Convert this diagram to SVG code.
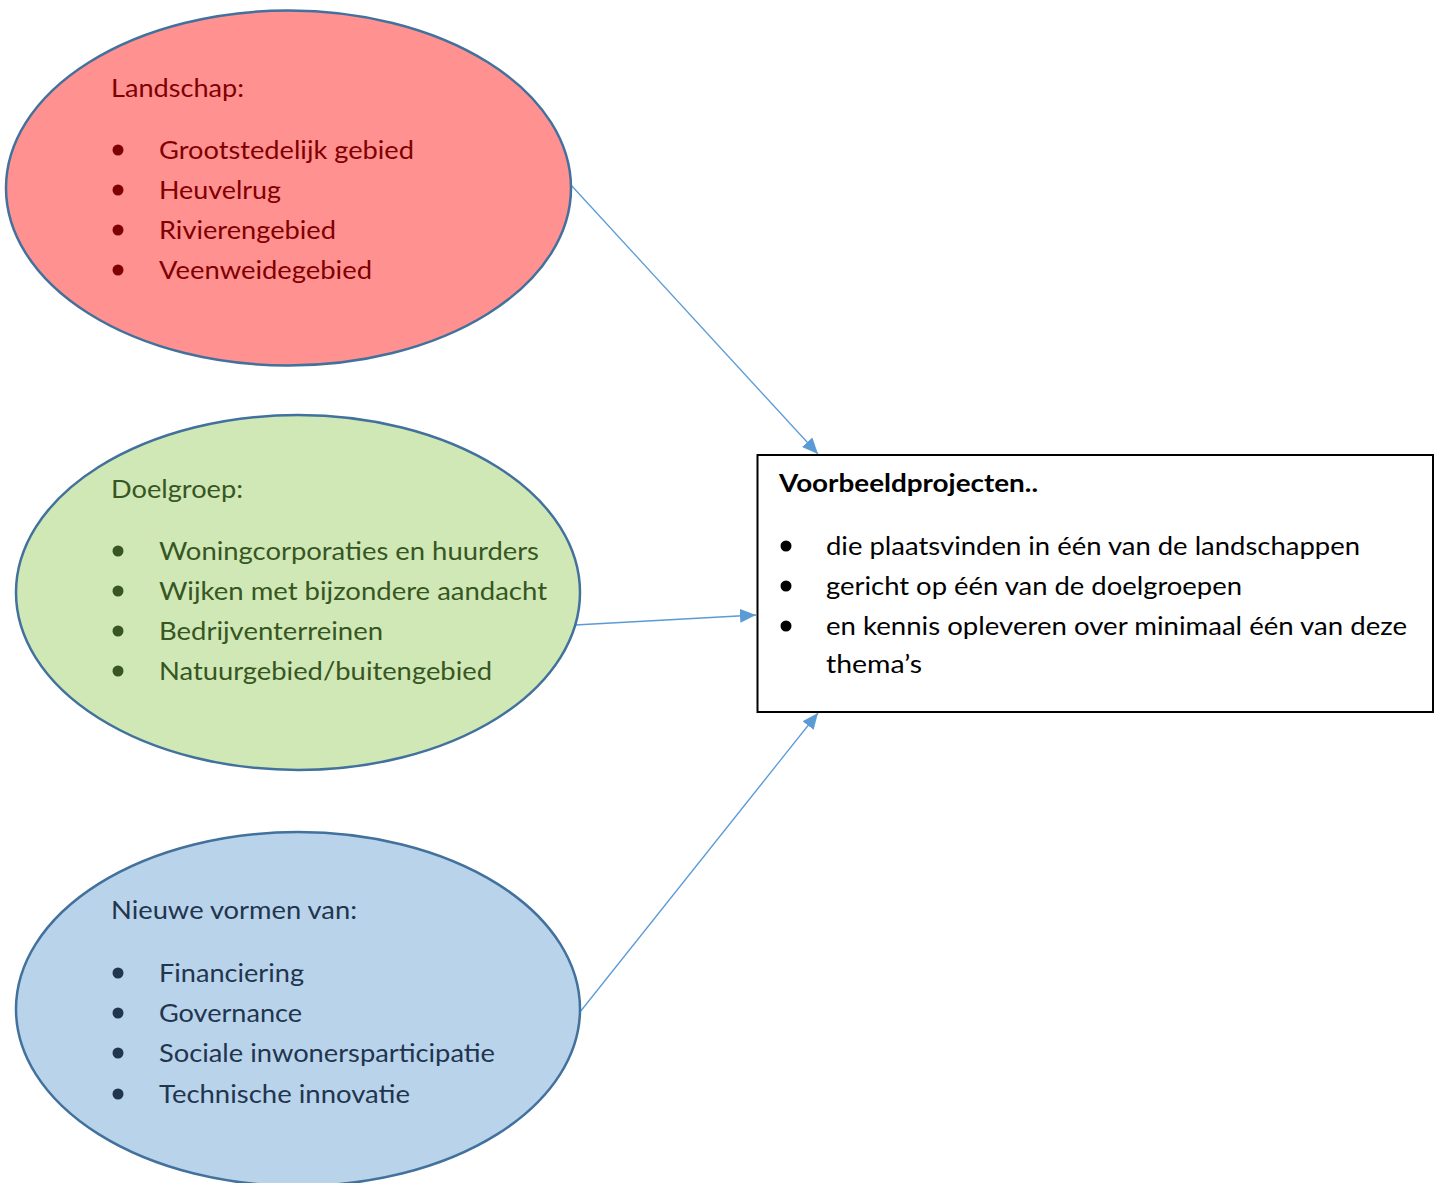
<svg xmlns="http://www.w3.org/2000/svg" width="1442" height="1183" viewBox="0 0 1442 1183">
<style>
text{font-family:Lato,"Open Sans","Liberation Sans",sans-serif;font-size:25px}
.ell{stroke:#41719C;stroke-width:2.5}
.conn{stroke:#5B9BD5;stroke-width:1.3;fill:none}
.red{fill:#7F0000}.green{fill:#375623}.blue{fill:#22354F}
</style>
<defs>
<marker id="ah" viewBox="0 0 16 14" refX="16" refY="7" markerWidth="16" markerHeight="14" markerUnits="userSpaceOnUse" orient="auto">
<path d="M0,0 L16,7 L0,14 z" fill="#5B9BD5"/>
</marker>
</defs>
<rect width="1442" height="1183" fill="#fff"/>
<g id="connectors">
<line class="conn" x1="571" y1="185" x2="818" y2="454" marker-end="url(#ah)"/>
<line class="conn" x1="575" y1="625" x2="756" y2="615" marker-end="url(#ah)"/>
<line class="conn" x1="580" y1="1012" x2="818" y2="713" marker-end="url(#ah)"/>
</g>
<g id="landschap">
<ellipse class="ell" cx="288.5" cy="188" rx="282.5" ry="177.5" fill="#FF9191"/>
<g class="red">
<text x="111" y="97" textLength="133" lengthAdjust="spacingAndGlyphs">Landschap:</text>
<circle cx="118" cy="150" r="5.5"/><circle cx="118" cy="190" r="5.5"/><circle cx="118" cy="230" r="5.5"/><circle cx="118" cy="270" r="5.5"/>
<text x="159" y="159" textLength="255" lengthAdjust="spacingAndGlyphs">Grootstedelijk gebied</text>
<text x="159" y="199" textLength="122" lengthAdjust="spacingAndGlyphs">Heuvelrug</text>
<text x="159" y="239" textLength="177" lengthAdjust="spacingAndGlyphs">Rivierengebied</text>
<text x="159" y="279" textLength="213" lengthAdjust="spacingAndGlyphs">Veenweidegebied</text>
</g>
</g>
<g id="doelgroep">
<ellipse class="ell" cx="298" cy="592.5" rx="282" ry="177.5" fill="#CFE8B5"/>
<g class="green">
<text x="111" y="498" textLength="132" lengthAdjust="spacingAndGlyphs">Doelgroep:</text>
<circle cx="118" cy="551" r="5.5"/><circle cx="118" cy="591" r="5.5"/><circle cx="118" cy="631" r="5.5"/><circle cx="118" cy="671" r="5.5"/>
<text x="159" y="560" textLength="380" lengthAdjust="spacingAndGlyphs">Woningcorporaties en huurders</text>
<text x="159" y="600" textLength="388" lengthAdjust="spacingAndGlyphs">Wijken met bijzondere aandacht</text>
<text x="159" y="640" textLength="224" lengthAdjust="spacingAndGlyphs">Bedrijventerreinen</text>
<text x="159" y="680" textLength="333" lengthAdjust="spacingAndGlyphs">Natuurgebied/buitengebied</text>
</g>
</g>
<g id="nieuwe-vormen">
<ellipse class="ell" cx="298" cy="1009" rx="282" ry="177" fill="#B8D3EA"/>
<g class="blue">
<text x="111" y="919" textLength="246" lengthAdjust="spacingAndGlyphs">Nieuwe vormen van:</text>
<circle cx="118" cy="973" r="5.5"/><circle cx="118" cy="1013" r="5.5"/><circle cx="118" cy="1053" r="5.5"/><circle cx="118" cy="1094" r="5.5"/>
<text x="159" y="982" textLength="145" lengthAdjust="spacingAndGlyphs">Financiering</text>
<text x="159" y="1022" textLength="143" lengthAdjust="spacingAndGlyphs">Governance</text>
<text x="159" y="1062" textLength="336" lengthAdjust="spacingAndGlyphs">Sociale inwonersparticipatie</text>
<text x="159" y="1103" textLength="251" lengthAdjust="spacingAndGlyphs">Technische innovatie</text>
</g>
</g>
<g id="voorbeeldprojecten">
<rect x="757.5" y="455" width="675.5" height="257" fill="#fff" stroke="#000" stroke-width="2"/>
<text x="779" y="492" font-weight="bold" textLength="259" lengthAdjust="spacingAndGlyphs">Voorbeeldprojecten..</text>
<circle cx="786" cy="546" r="5.5"/><circle cx="786" cy="586" r="5.5"/><circle cx="786" cy="626" r="5.5"/>
<text x="826" y="555" textLength="534" lengthAdjust="spacingAndGlyphs">die plaatsvinden in één van de landschappen</text>
<text x="826" y="595" textLength="416" lengthAdjust="spacingAndGlyphs">gericht op één van de doelgroepen</text>
<text x="826" y="635" textLength="581" lengthAdjust="spacingAndGlyphs">en kennis opleveren over minimaal één van deze</text>
<text x="826" y="673" textLength="96" lengthAdjust="spacingAndGlyphs">thema’s</text>
</g>
</svg>
